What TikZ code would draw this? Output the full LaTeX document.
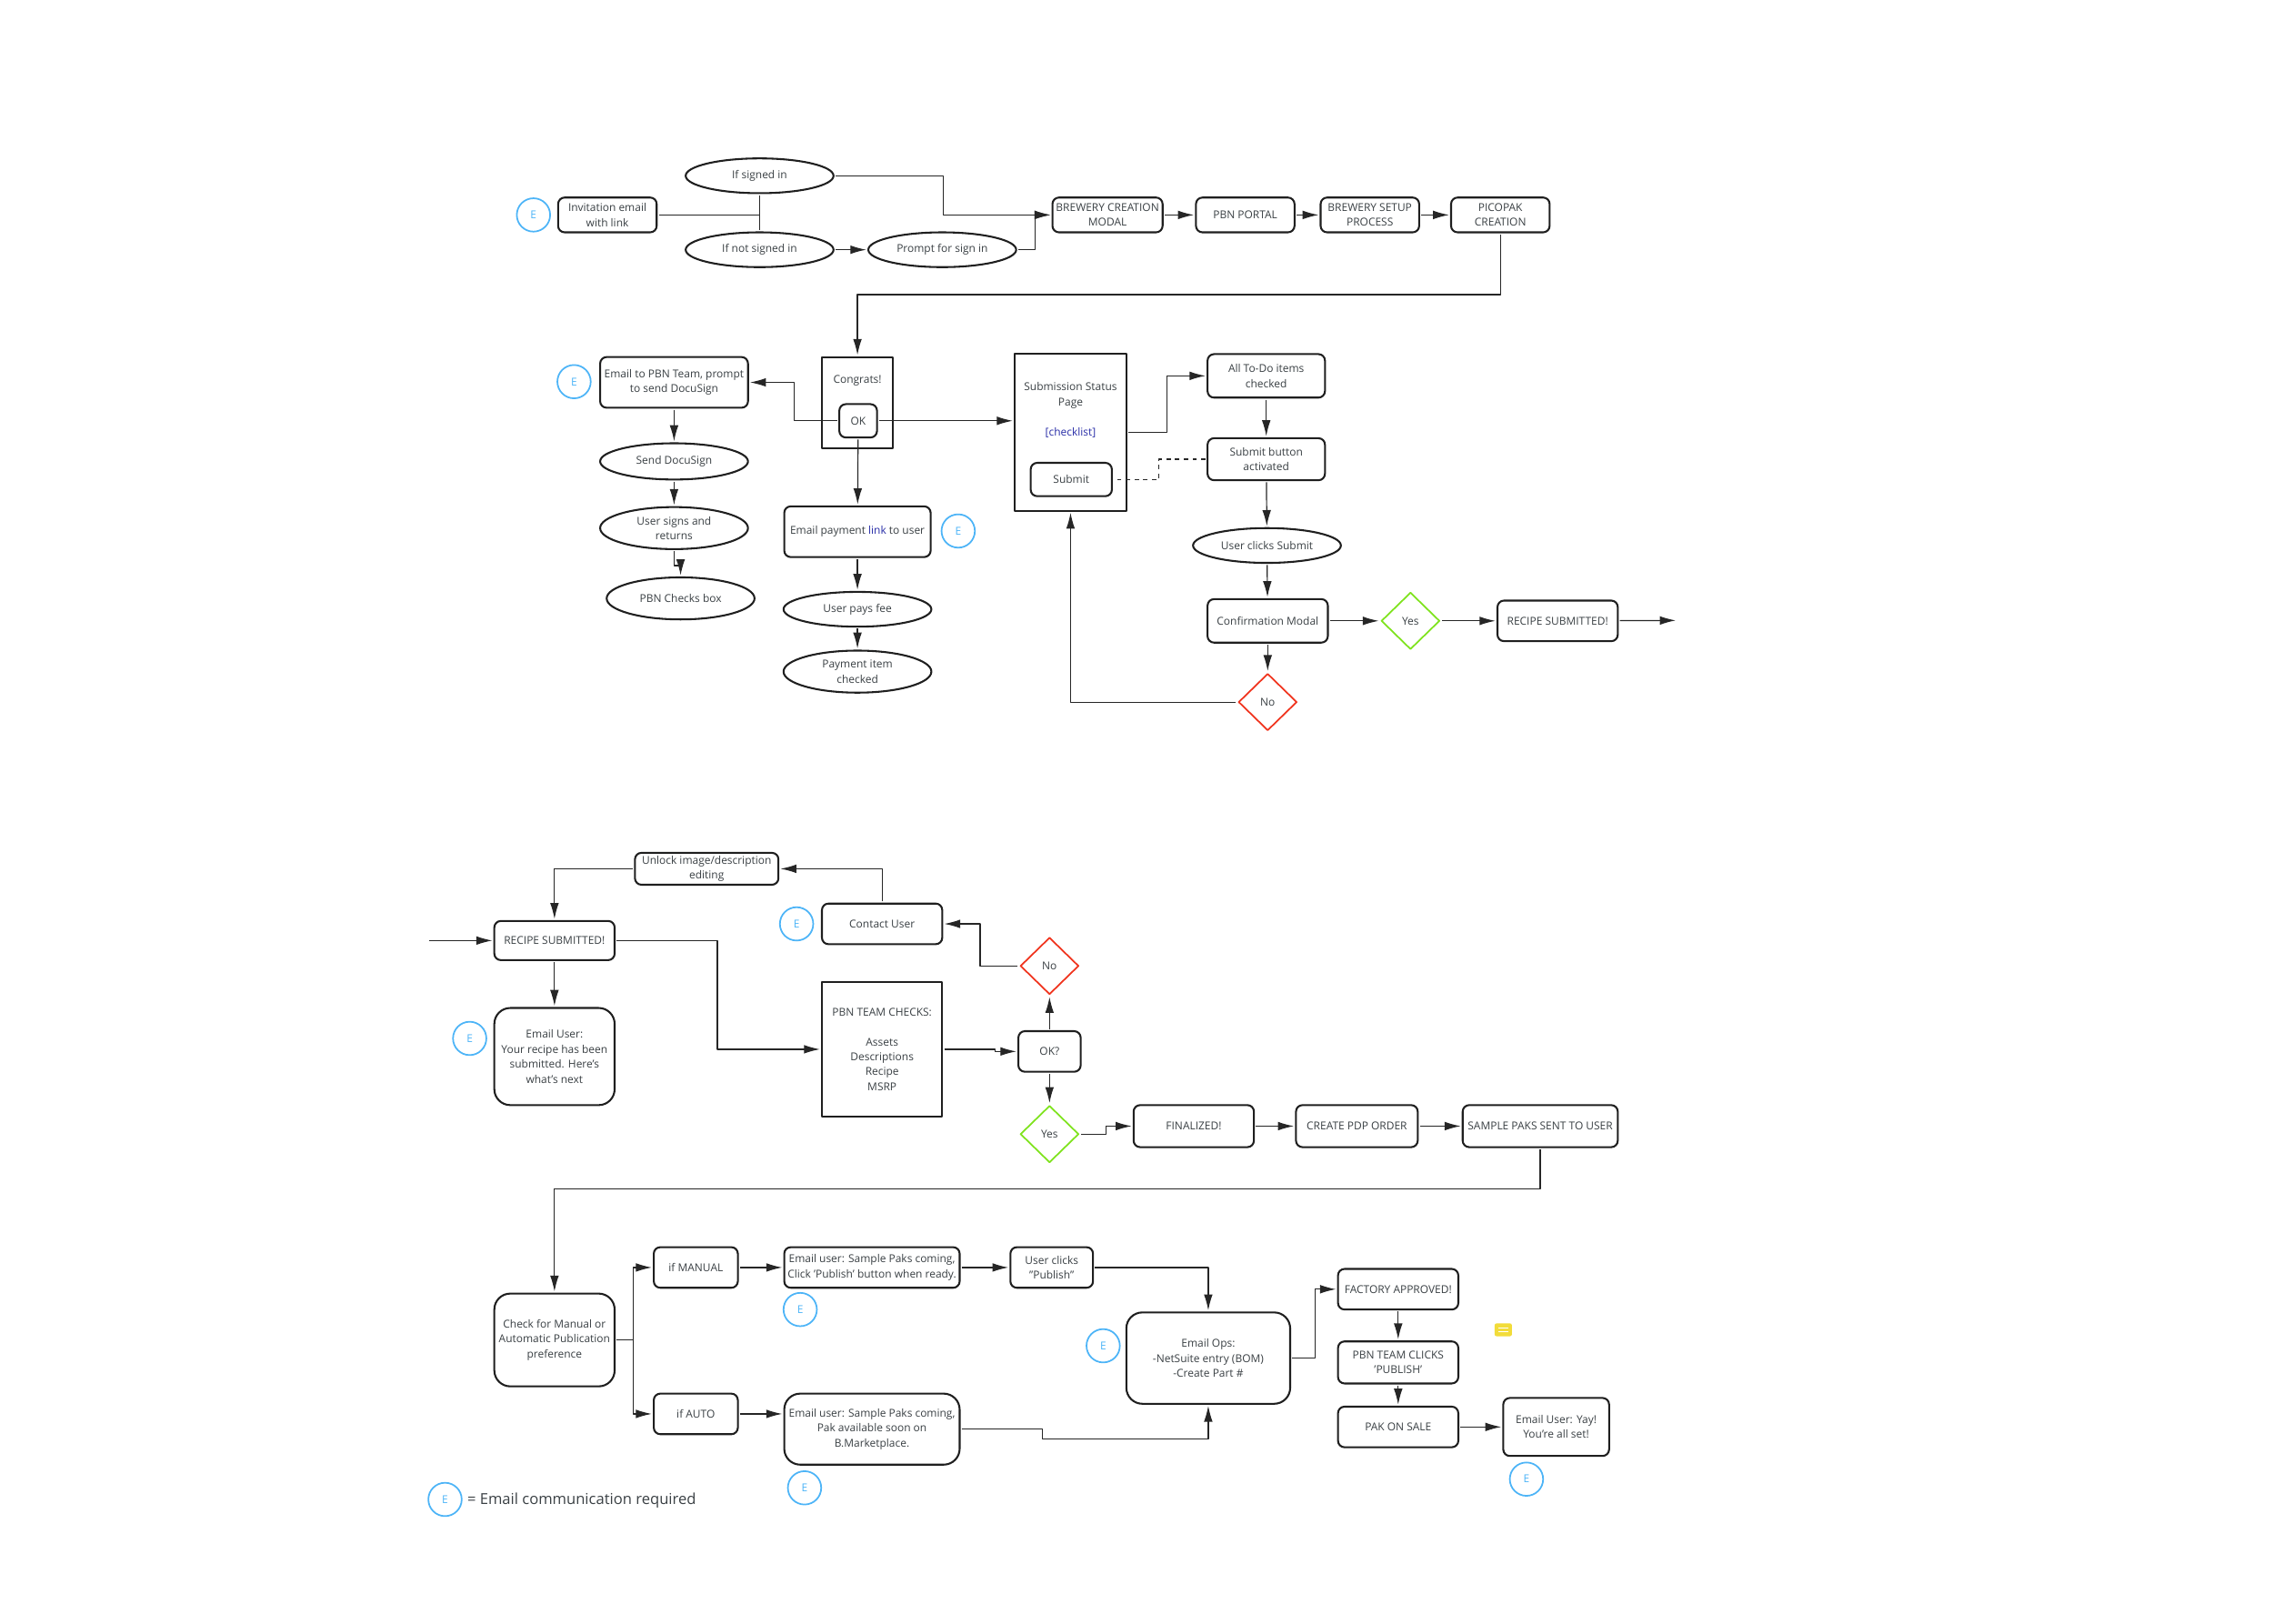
\documentclass[tikz,border=0pt]{standalone}
\usepackage{fontspec}
\setmainfont{Open Sans}
\usetikzlibrary{arrows, arrows.meta, calc, shapes.geometric}
\definecolor{inkgray}{HTML}{3A4044}
\definecolor{inkblue}{HTML}{2A2FA8}
\definecolor{markblue}{HTML}{4DB4F7}
\definecolor{yesgreen}{HTML}{7FE31E}
\definecolor{nored}{HTML}{F0341E}
\definecolor{noteyellow}{HTML}{F2DC3A}

\begin{document}
\begin{tikzpicture}[x=1pt, y=-1pt, >={Latex[length=11pt,width=6pt]}, line join=round,
	every node/.style={font=\fontsize{7.5}{10.3}\selectfont, text=inkgray, align=center, inner sep=0pt, outer sep=1.4pt, yshift=-0.25pt},
	box/.style n args={2}{draw=black!88, line width=1.3pt, rounded corners=4.5pt, fill=white, minimum width=#1, minimum height=#2},
	bigbox/.style n args={2}{box={#1}{#2}, rounded corners=11pt},
	page/.style n args={2}{box={#1}{#2}, rounded corners=0pt},
	oval/.style n args={2}{ellipse, draw=black!88, line width=1.3pt, fill=white, minimum width=#1, minimum height=#2},
	choice/.style={diamond, draw=#1, line width=1.1pt, fill=white, minimum width=41pt, minimum height=40pt},
	emailmark/.style={circle, draw=markblue, line width=1.1pt, text=markblue, minimum size=23pt, outer sep=0pt},
	link/.style={draw=black!85, line width=0.75pt},
	go/.style={link, ->},
	]
\useasboundingbox (0,0) rectangle (1568,1120);

%========================
% Top row: invitation to PicoPak
%========================
\node[emailmark] (markinv) at (368,148) {E};
\node[box={68}{24}] (inv) at (419,148) {Invitation email\\with link};
\node[oval={102}{24}] (ifin) at (524,121) {If signed in};
\node[oval={102}{24}] (ifnot) at (524,172) {If not signed in};
\node[oval={102}{24}] (prompt) at (650,172) {Prompt for sign in};
\node[box={76}{24}] (brew) at (764,148) {BREWERY CREATION\\MODAL};
\node[box={68}{24}] (portal) at (859,148) {PBN PORTAL};
\node[box={68}{24}] (setup) at (945,148) {BREWERY SETUP\\PROCESS};
\node[box={68}{24}] (pico) at (1035,148) {PICOPAK\\CREATION};

\draw[link] (inv.east) -- (inv.east -| ifin.south);
\draw[link] (ifin.south) -- (ifnot.north);
\draw[go] (ifnot) -- (prompt);
\draw[go] (ifin.east) -- ++(74.5,0) |- (brew.west);
\draw[go] (prompt.east) -- ++(11.7,0) |- (brew.west);
\draw[go] (brew) -- (portal);
\draw[go] (portal) -- (setup);
\draw[go] (setup) -- (pico);

%========================
% Congrats and its two branches
%========================
\node[page={49}{63}] (congrats) at (591.5,277.5) {};
\node at (591.5,262) (congratstext) {Congrats!};
\node[box={26}{23}] (ok) at (592,290) {OK};
\node[emailmark] (markteam) at (396,263) {E};
\node[box={102}{35}] (mailteam) at (465,263.5) {Email to PBN Team, prompt\\to send DocuSign};
\node[oval={102}{25}] (send) at (465,318) {Send DocuSign};
\node[oval={102}{29}] (signs) at (465,364) {User signs and\\returns};
\node[oval={102}{29}] (boxchecked) at (469.5,412.5) {PBN Checks box};
\node[box={101}{35}] (paylink) at (591.5,366.5) {Email payment \textcolor{inkblue}{link} to user};
\node[emailmark] (markpay) at (661,366) {E};
\node[oval={102}{24}] (fee) at (591.5,420) {User pays fee};
\node[oval={102}{29}] (paid) at (591.5,463) {Payment item\\checked};

\draw[go] (pico.south) -- ++(0,41.5) -| (congrats.north);
\draw[go] (ok.west) -- ++(-30,0) |- (mailteam.east);
\draw[go] (mailteam) -- (send);
\draw[go] (send) -- (signs);
\draw[go] (signs.south) -- ++(0,10) -| (boxchecked.north);
\draw[go] (ok) -- (paylink);
\draw[go] (paylink) -- (fee);
\draw[go] (fee) -- (paid);

%========================
% Submission page
%========================
\node[page={77}{108}] (status) at (738.5,298) {};
\node (statustext) at (738.5,282.5) {Submission Status\\Page\\[10.3pt]\textcolor{inkblue}{[checklist]}};
\node[box={56}{23}] (submit) at (739,330.5) {Submit};
\node[box={81}{30}] (todo) at (873.5,259) {All To-Do items\\checked};
\node[box={81}{29}] (activated) at (873.5,316.5) {Submit button\\activated};
\node[oval={102}{24}] (clicks) at (874,376) {User clicks Submit};
\node[box={83}{30}] (confirm) at (874.5,428) {Confirmation Modal};
\node[choice=yesgreen] (yesa) at (973,428) {Yes};
\node[choice=nored] (noa) at (874.5,484) {No};
\node[box={83}{28}] (doneb) at (1074.5,428) {RECIPE SUBMITTED!};
\coordinate (exit) at (1156,427.7);

\draw[go] (ok.east) -- (ok.east -| status.west);
\draw[go] (status.east) -- ++(26.6,0) |- (todo.west);
\draw[link, dashed] (activated.west) -- ++(-32,0) |- (submit.east);
\draw[go] (todo) -- (activated);
\draw[go] (activated) -- (clicks);
\draw[go] (clicks) -- (confirm);
\draw[go] (confirm) -- (yesa);
\draw[go] (confirm) -- (noa);
\draw[go] (yesa) -- (doneb);
\draw[go] (doneb) -- (exit);
\draw[go] (noa.west) -| (status.south);

%========================
% PBN team checks
%========================
\coordinate (entry) at (296,648.5);
\node[box={83}{27}] (recipe) at (382.5,648.5) {RECIPE SUBMITTED!};
\node[bigbox={83}{67}] (usermail) at (382.5,728.5) {Email User:\\Your recipe has been\\submitted.  Here's\\what's next};
\node[emailmark] (markuser) at (324,716) {E};
\node[box={99}{22}] (unlock) at (487.5,599) {Unlock image/description\\editing};
\node[box={83}{28}] (contact) at (608.5,637) {Contact User};
\node[emailmark] (markcontact) at (549.5,637) {E};
\node[page={83}{93}] (teamchecks) at (608.5,723.5) {PBN TEAM CHECKS:\\[10.3pt]Assets\\Descriptions\\Recipe\\MSRP};
\node[box={43}{28}] (okq) at (724,725) {OK?};
\node[choice=nored] (nob) at (724,666) {No};
\node[choice=yesgreen] (yesb) at (724,782) {Yes};
\node[box={83}{29}] (final) at (823.5,776.5) {FINALIZED!};
\node[box={84}{29}] (pdp) at (936,776.5) {CREATE PDP ORDER};
\node[box={107}{29}] (samples) at (1062.5,776.5) {SAMPLE PAKS SENT TO USER};

\draw[go] (entry) -- (recipe);
\draw[go] (recipe) -- (usermail);
\draw[go] (recipe.east) -- ++(69.5,0) |- (teamchecks.west);
\draw[go] (teamchecks.east) -- ++(35,0) |- (okq.west);
\draw[go] (okq) -- (nob);
\draw[go] (okq) -- (yesb);
\draw[go] (nob.west) -- ++(-26,0) |- (contact.east);
\draw[go] (contact.north) |- (unlock.east);
\draw[go] (unlock.west) -| (recipe.north);
\draw[go] (yesb.east) -- ++(17,0) |- (final.west);
\draw[go] (final) -- (pdp);
\draw[go] (pdp) -- (samples);

%========================
% Publication preference
%========================
\node[bigbox={83}{64}] (pref) at (382.5,924) {Check for Manual or\\Automatic Publication\\preference};
\node[box={58}{28}] (manual) at (480,874) {if MANUAL};
\node[box={58}{28}] (auto) at (480,975) {if AUTO};
\node[box={121}{28}] (mailman) at (601.5,874) {Email user: Sample Paks coming,\\Click 'Publish' button when ready.};
\node[emailmark] (markman) at (552,903) {E};
\node[bigbox={121}{49}] (mailauto) at (601.5,985.5) {Email user: Sample Paks coming,\\Pak available soon on\\B.Marketplace.};
\node[emailmark] (markauto) at (555,1026) {E};
\node[box={57}{28}] (publish) at (725.5,874) {User clicks\\"Publish"};
\node[bigbox={113}{63}] (ops) at (833.5,936.5) {Email Ops:\\-NetSuite entry (BOM)\\-Create Part \#};
\node[emailmark] (markops) at (761,928) {E};
\node[box={83}{28}] (factory) at (964.5,889) {FACTORY APPROVED!};
\node[box={83}{29}] (clickpub) at (964.5,939.5) {PBN TEAM CLICKS\\'PUBLISH'};
\node[box={83}{28}] (sale) at (964.5,984) {PAK ON SALE};
\node[box={73}{40}] (yay) at (1073.5,984) {Email User: Yay!\\You're all set!};
\node[emailmark] (markyay) at (1053,1020) {E};

\draw[go] (samples.south) -- ++(0,27.5) -| (pref.north);
\draw[go] (pref.east) -- ++(11.5,0) |- (manual.west);
\draw[go] (pref.east) -- ++(11.5,0) |- (auto.west);
\draw[go] (manual) -- (mailman);
\draw[go] (mailman) -- (publish);
\draw[go] (auto.east) -- (auto.east -| mailauto.west);
\draw[go] (publish.east) -| (ops.north);
\draw[go] (mailauto.east) -- ++(55.5,0) -- ++(0,7) -| (ops.south);
\draw[go] (ops.east) -- ++(15.6,0) |- (factory.west);
\draw[go] (factory) -- (clickpub);
\draw[go] (clickpub) -- (sale);
\draw[go] (sale) -- (yay);

% comment flag
\node[fill=noteyellow, rounded corners=1.5pt, minimum width=12pt, minimum height=9pt, outer sep=0pt] (flag) at (1037,917) {};
\draw[white, line width=0.8pt] ($(flag.center)+(-3.5,-1.4)$) -- ($(flag.center)+(3.5,-1.4)$);
\draw[white, line width=0.8pt] ($(flag.center)+(-3.5,1.4)$) -- ($(flag.center)+(3.5,1.4)$);

%========================
% Legend
%========================
\node[emailmark] (marklegend) at (307,1034) {E};
\node[font=\fontsize{10.4}{12}\selectfont, anchor=west] (legend) at (321,1035) {= Email communication required};

\end{tikzpicture}
\end{document}
